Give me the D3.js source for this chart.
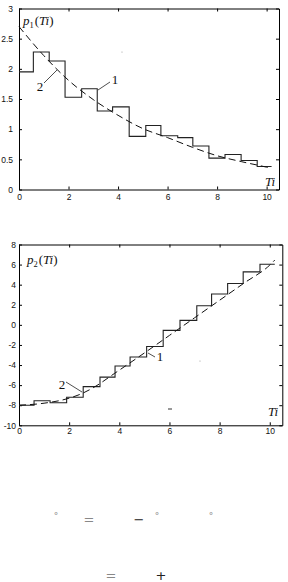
<!DOCTYPE html>
<html>
<head>
  <script src="https://cdn.jsdelivr.net/npm/d3@7"></script>
  <style type="text/css">
    body { margin: 0; background: #fff; }
    svg { display: block; }
    .tick text { font-family: "Liberation Sans", Arial, sans-serif; font-size: 8.5px; fill: #111; }
    .lbl { font-family: "Liberation Serif", "DejaVu Serif", serif; font-size: 13px; fill: #111; }
    .eq { font-family: "DejaVu Sans", sans-serif; }
  </style>
</head>
<body>
<svg id="mysvg" width="288" height="582"></svg>

<script type="text/javascript">
// values

// top chart: p1(Ti)
const xTicks = [0, 2, 4, 6, 8, 10];
const yTicks1 = [0, 0.5, 1, 1.5, 2, 2.5, 3];
const yTickLabels1 = ['0', '0.5', '1', '1.5', '2', '2.5', '3'];
const stepEdges1 = [0, 0.58, 1.22, 1.86, 2.53, 3.16, 3.78, 4.45, 5.12, 5.73, 6.41, 7.02, 7.67, 8.32, 8.97, 9.62, 10.2];
const stepVals1 = [1.95, 2.28, 2.13, 1.53, 1.67, 1.30, 1.37, 0.88, 1.06, 0.89, 0.86, 0.72, 0.52, 0.58, 0.48, 0.38];
const dashX1 = [0, 1, 2, 3, 4, 5, 6, 7, 8, 9, 10, 10.2];
const dashY1 = [2.70, 2.22, 1.81, 1.49, 1.23, 1.01, 0.86, 0.70, 0.56, 0.46, 0.37, 0.35];

// bottom chart: p2(Ti)
const yTicks2 = [-10, -8, -6, -4, -2, 0, 2, 4, 6, 8];
const stepEdges2 = [0, 0.6, 1.24, 1.9, 2.56, 3.23, 3.83, 4.43, 5.09, 5.75, 6.42, 7.09, 7.68, 8.32, 8.94, 9.61, 10.2];
const stepVals2 = [-8.0, -7.55, -7.75, -7.2, -6.15, -5.2, -4.1, -3.2, -2.15, -0.55, 0.45, 1.9, 3.07, 4.12, 5.27, 6.04];
const dashX2 = [0, 1, 2, 2.5, 3, 3.8, 5, 6, 7, 8, 9, 10, 10.2];
const dashY2 = [-8.0, -7.8, -7.3, -6.85, -6.2, -4.85, -2.8, -1.05, 0.7, 2.45, 4.2, 5.95, 6.45];

var svg = d3.select('#mysvg');

function drawPanel(o) {
  var x = d3.scaleLinear().domain([0, 10.5]).range([19, o.right]);
  var y = d3.scaleLinear().domain(o.ydom).range([o.bottom, o.top]);
  var g = svg.append('g');

  g.append('g').attr('transform', `translate(0,${o.bottom})`)
    .call(d3.axisBottom(x).tickValues(xTicks).tickSizeInner(-3).tickSizeOuter(0).tickPadding(o.xpad));
  g.append('g').attr('transform', `translate(0,${o.top})`)
    .call(d3.axisTop(x).tickValues(xTicks).tickSizeInner(-3).tickSizeOuter(0).tickFormat(''));
  g.append('g').attr('transform', 'translate(19,0)')
    .call(d3.axisLeft(y).tickValues(o.yticks).tickSizeInner(-3).tickSizeOuter(0).tickPadding(o.ypad)
      .tickFormat((d, i) => o.ylabels ? o.ylabels[i] : d));
  g.append('g').attr('transform', `translate(${o.right},0)`)
    .call(d3.axisRight(y).tickValues(o.yticks).tickSizeInner(-3).tickSizeOuter(0).tickFormat(''));
  g.selectAll('.domain').attr('stroke', '#000');
  g.selectAll('.tick line').attr('stroke', '#000');

  var steps = o.edges.map((e, i) => ({ x: e, y: o.vals[Math.min(i, o.vals.length - 1)] }));
  g.append('path').datum(steps)
    .attr('fill', 'none').attr('stroke', '#222').attr('stroke-width', 1.1)
    .attr('d', d3.line().x(d => x(d.x)).y(d => y(d.y)).curve(d3.curveStepAfter));

  var dash = o.dx.map((v, i) => ({ x: v, y: o.dy[i] }));
  g.append('path').datum(dash)
    .attr('fill', 'none').attr('stroke', '#111').attr('stroke-width', 1)
    .attr('stroke-dasharray', '7,4')
    .attr('d', d3.line().x(d => x(d.x)).y(d => y(d.y)).curve(d3.curveMonotoneX));

  // p_n(Ti) label
  var t = g.append('text').attr('class', 'lbl').attr('x', o.plabel[0]).attr('y', o.plabel[1]);
  t.append('tspan').attr('font-style', 'italic').text('p');
  t.append('tspan').attr('font-size', '8.5px').attr('dy', 3).text(o.sub);
  t.append('tspan').attr('dy', -3).attr('dx', 1).text('(');
  t.append('tspan').attr('font-style', 'italic').text('Ti');
  t.append('tspan').text(')');

  g.append('text').attr('class', 'lbl').attr('font-style', 'italic')
    .attr('x', o.ti[0]).attr('y', o.ti[1]).attr('text-anchor', 'middle').text('Ti');

  o.leaders.forEach(l => {
    g.append('line').attr('x1', l.a[0]).attr('y1', l.a[1]).attr('x2', l.b[0]).attr('y2', l.b[1])
      .attr('stroke', '#222').attr('stroke-width', 0.8);
    g.append('text').attr('class', 'lbl').attr('text-anchor', 'middle')
      .attr('x', l.t[0]).attr('y', l.t[1]).text(l.s);
  });
}

drawPanel({
  ydom: [0, 3], top: 8.5, bottom: 189.5, right: 279,
  yticks: yTicks1, ylabels: yTickLabels1, xpad: 4, ypad: 6,
  edges: stepEdges1, vals: stepVals1, dx: dashX1, dy: dashY1,
  sub: '1', plabel: [23, 25], ti: [270, 186],
  leaders: [
    { a: [98, 90], b: [110, 82], t: [115, 84], s: '1' },
    { a: [44, 83], b: [57, 70], t: [40, 91], s: '2' }
  ]
});

drawPanel({
  ydom: [-10, 8], top: 244.5, bottom: 425.3, right: 282.3,
  yticks: yTicks2, ylabels: null, xpad: 3, ypad: 3,
  edges: stepEdges2, vals: stepVals2, dx: dashX2, dy: dashY2,
  sub: '2', plabel: [27, 264], ti: [273, 416],
  leaders: [
    { a: [148, 353], b: [155, 357], t: [160, 361], s: '1' },
    { a: [66, 382], b: [82, 392], t: [62, 389], s: '2' }
  ]
});

// stray marks in the scan
svg.append('circle').attr('cx', 122).attr('cy', 52).attr('r', 0.6).attr('fill', '#999');
svg.append('circle').attr('cx', 200).attr('cy', 361).attr('r', 0.6).attr('fill', '#999');
svg.append('line').attr('x1', 168).attr('y1', 409).attr('x2', 172).attr('y2', 409).attr('stroke', '#333');

// leftover equation pieces below the charts
const eqBits = [
  { s: '°', x: 56, y: 519, f: 9 }, { s: '=', x: 89, y: 524, f: 13 }, { s: '−', x: 139, y: 524, f: 13 },
  { s: '°', x: 157, y: 519, f: 9 }, { s: '°', x: 211, y: 519, f: 9 },
  { s: '=', x: 111, y: 580, f: 13 }, { s: '+', x: 161, y: 580, f: 13 }
];
svg.selectAll('.eq').data(eqBits).enter().append('text').attr('class', 'eq')
  .attr('x', d => d.x).attr('y', d => d.y).attr('font-size', d => d.f + 'px')
  .attr('text-anchor', 'middle')
  .attr('fill', d => (d.s === '−' || d.s === '+') ? '#222' : '#888')
  .text(d => d.s);
</script>
</body>
</html>
